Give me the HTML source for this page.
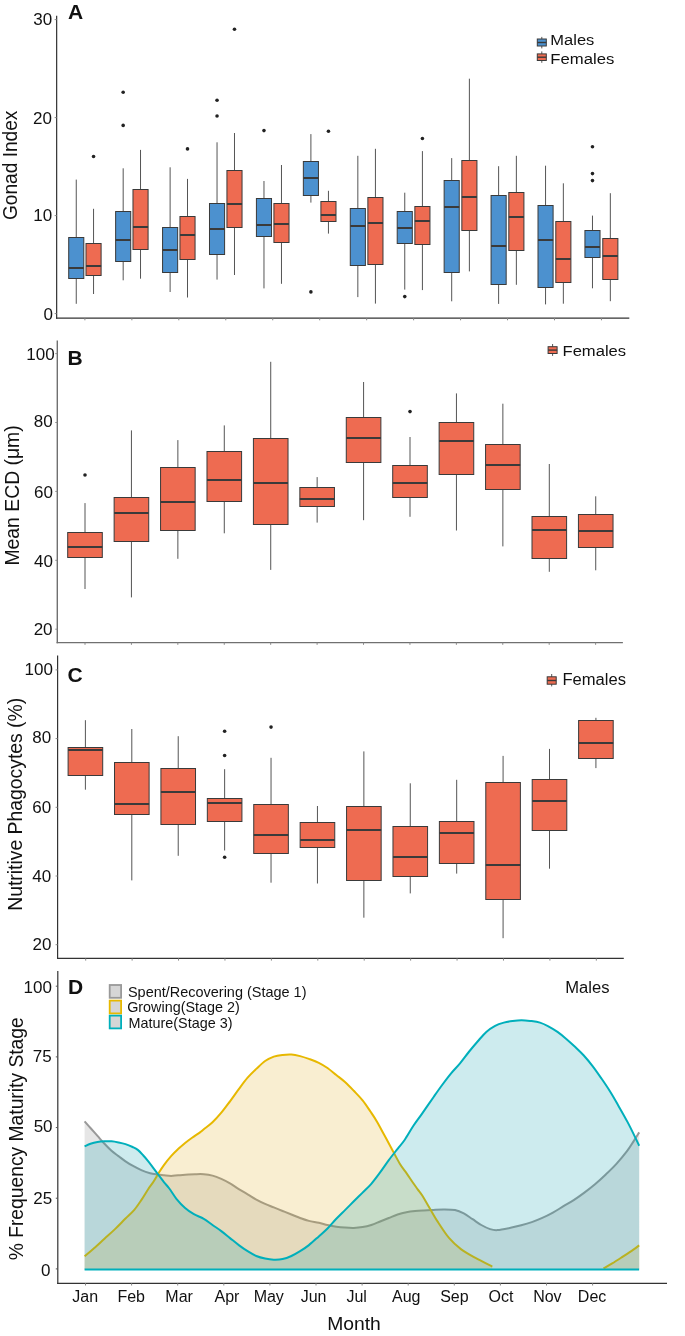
<!DOCTYPE html>
<html><head><meta charset="utf-8"><title>Figure</title>
<style>html,body{margin:0;padding:0;background:#fff;}svg{display:block;will-change:transform;}
text{font-family:"Liberation Sans",sans-serif;}</style></head>
<body><svg width="685" height="1336" viewBox="0 0 685 1336" font-family="Liberation Sans, sans-serif">
<rect width="685" height="1336" fill="#fff"/>
<line x1="56.65" y1="15.8" x2="56.65" y2="318.7" stroke="#333" stroke-width="1.2"/>
<line x1="54.65" y1="19.6" x2="56.65" y2="19.6" stroke="#888" stroke-width="1"/>
<line x1="54.65" y1="117.6" x2="56.65" y2="117.6" stroke="#888" stroke-width="1"/>
<line x1="54.65" y1="215.6" x2="56.65" y2="215.6" stroke="#888" stroke-width="1"/>
<line x1="54.65" y1="313.6" x2="56.65" y2="313.6" stroke="#888" stroke-width="1"/>
<text x="33.25" y="25.25" font-size="17" fill="#111">30</text>
<text x="32.95" y="123.65" font-size="17" fill="#111">20</text>
<text x="33.25" y="220.75" font-size="17" fill="#111">10</text>
<text x="43.41" y="319.8" font-size="17" fill="#111">0</text>
<line x1="56.05" y1="318.1" x2="629.3" y2="318.1" stroke="#333" stroke-width="1.2"/>
<line x1="84.9" y1="318.1" x2="84.9" y2="320.3" stroke="#888" stroke-width="1"/>
<line x1="131.86" y1="318.1" x2="131.86" y2="320.3" stroke="#888" stroke-width="1"/>
<line x1="178.82" y1="318.1" x2="178.82" y2="320.3" stroke="#888" stroke-width="1"/>
<line x1="225.78" y1="318.1" x2="225.78" y2="320.3" stroke="#888" stroke-width="1"/>
<line x1="272.74" y1="318.1" x2="272.74" y2="320.3" stroke="#888" stroke-width="1"/>
<line x1="319.7" y1="318.1" x2="319.7" y2="320.3" stroke="#888" stroke-width="1"/>
<line x1="366.66" y1="318.1" x2="366.66" y2="320.3" stroke="#888" stroke-width="1"/>
<line x1="413.62" y1="318.1" x2="413.62" y2="320.3" stroke="#888" stroke-width="1"/>
<line x1="460.58" y1="318.1" x2="460.58" y2="320.3" stroke="#888" stroke-width="1"/>
<line x1="507.54" y1="318.1" x2="507.54" y2="320.3" stroke="#888" stroke-width="1"/>
<line x1="554.5" y1="318.1" x2="554.5" y2="320.3" stroke="#888" stroke-width="1"/>
<line x1="601.46" y1="318.1" x2="601.46" y2="320.3" stroke="#888" stroke-width="1"/>
<line x1="76.25" y1="179.6" x2="76.25" y2="237" stroke="#555555" stroke-width="1"/>
<line x1="76.25" y1="279" x2="76.25" y2="303.8" stroke="#555555" stroke-width="1"/>
<rect x="68.7" y="237.5" width="15.1" height="41" fill="#4C91CF" stroke="#3a3a3a" stroke-width="1"/>
<line x1="68.7" y1="268" x2="83.8" y2="268" stroke="#3a3a3a" stroke-width="2"/>
<line x1="93.55" y1="208.8" x2="93.55" y2="243" stroke="#555555" stroke-width="1"/>
<line x1="93.55" y1="276" x2="93.55" y2="294" stroke="#555555" stroke-width="1"/>
<rect x="86" y="243.5" width="15.1" height="32" fill="#EE6B51" stroke="#3a3a3a" stroke-width="1"/>
<line x1="86" y1="266" x2="101.1" y2="266" stroke="#3a3a3a" stroke-width="2"/>
<circle cx="93.55" cy="156.5" r="1.8" fill="#222"/>
<line x1="123.18" y1="168.3" x2="123.18" y2="211" stroke="#555555" stroke-width="1"/>
<line x1="123.18" y1="262" x2="123.18" y2="280.3" stroke="#555555" stroke-width="1"/>
<rect x="115.63" y="211.5" width="15.1" height="50" fill="#4C91CF" stroke="#3a3a3a" stroke-width="1"/>
<line x1="115.63" y1="240" x2="130.73" y2="240" stroke="#3a3a3a" stroke-width="2"/>
<circle cx="123.18" cy="92.3" r="1.8" fill="#222"/>
<circle cx="123.18" cy="125.4" r="1.8" fill="#222"/>
<line x1="140.53" y1="149.9" x2="140.53" y2="189" stroke="#555555" stroke-width="1"/>
<line x1="140.53" y1="250" x2="140.53" y2="278.7" stroke="#555555" stroke-width="1"/>
<rect x="132.98" y="189.5" width="15.1" height="60" fill="#EE6B51" stroke="#3a3a3a" stroke-width="1"/>
<line x1="132.98" y1="227" x2="148.08" y2="227" stroke="#3a3a3a" stroke-width="2"/>
<line x1="170.11" y1="167.3" x2="170.11" y2="227" stroke="#555555" stroke-width="1"/>
<line x1="170.11" y1="273" x2="170.11" y2="292" stroke="#555555" stroke-width="1"/>
<rect x="162.56" y="227.5" width="15.1" height="45" fill="#4C91CF" stroke="#3a3a3a" stroke-width="1"/>
<line x1="162.56" y1="250" x2="177.66" y2="250" stroke="#3a3a3a" stroke-width="2"/>
<line x1="187.51" y1="178.9" x2="187.51" y2="216" stroke="#555555" stroke-width="1"/>
<line x1="187.51" y1="260" x2="187.51" y2="297.5" stroke="#555555" stroke-width="1"/>
<rect x="179.96" y="216.5" width="15.1" height="43" fill="#EE6B51" stroke="#3a3a3a" stroke-width="1"/>
<line x1="179.96" y1="235" x2="195.06" y2="235" stroke="#3a3a3a" stroke-width="2"/>
<circle cx="187.51" cy="148.9" r="1.8" fill="#222"/>
<line x1="217.04" y1="142.3" x2="217.04" y2="203" stroke="#555555" stroke-width="1"/>
<line x1="217.04" y1="255" x2="217.04" y2="279.6" stroke="#555555" stroke-width="1"/>
<rect x="209.49" y="203.5" width="15.1" height="51" fill="#4C91CF" stroke="#3a3a3a" stroke-width="1"/>
<line x1="209.49" y1="229" x2="224.59" y2="229" stroke="#3a3a3a" stroke-width="2"/>
<circle cx="217.04" cy="100.3" r="1.8" fill="#222"/>
<circle cx="217.04" cy="116" r="1.8" fill="#222"/>
<line x1="234.49" y1="133" x2="234.49" y2="170" stroke="#555555" stroke-width="1"/>
<line x1="234.49" y1="228" x2="234.49" y2="275" stroke="#555555" stroke-width="1"/>
<rect x="226.94" y="170.5" width="15.1" height="57" fill="#EE6B51" stroke="#3a3a3a" stroke-width="1"/>
<line x1="226.94" y1="204" x2="242.04" y2="204" stroke="#3a3a3a" stroke-width="2"/>
<circle cx="234.49" cy="29.3" r="1.8" fill="#222"/>
<line x1="263.97" y1="181" x2="263.97" y2="198" stroke="#555555" stroke-width="1"/>
<line x1="263.97" y1="237" x2="263.97" y2="288.4" stroke="#555555" stroke-width="1"/>
<rect x="256.42" y="198.5" width="15.1" height="38" fill="#4C91CF" stroke="#3a3a3a" stroke-width="1"/>
<line x1="256.42" y1="225" x2="271.52" y2="225" stroke="#3a3a3a" stroke-width="2"/>
<circle cx="263.97" cy="130.6" r="1.8" fill="#222"/>
<line x1="281.47" y1="165" x2="281.47" y2="203" stroke="#555555" stroke-width="1"/>
<line x1="281.47" y1="243" x2="281.47" y2="283.8" stroke="#555555" stroke-width="1"/>
<rect x="273.92" y="203.5" width="15.1" height="39" fill="#EE6B51" stroke="#3a3a3a" stroke-width="1"/>
<line x1="273.92" y1="224" x2="289.02" y2="224" stroke="#3a3a3a" stroke-width="2"/>
<line x1="310.9" y1="134.1" x2="310.9" y2="161" stroke="#555555" stroke-width="1"/>
<line x1="310.9" y1="196" x2="310.9" y2="202.6" stroke="#555555" stroke-width="1"/>
<rect x="303.35" y="161.5" width="15.1" height="34" fill="#4C91CF" stroke="#3a3a3a" stroke-width="1"/>
<line x1="303.35" y1="178" x2="318.45" y2="178" stroke="#3a3a3a" stroke-width="2"/>
<circle cx="310.9" cy="291.9" r="1.8" fill="#222"/>
<line x1="328.45" y1="190.8" x2="328.45" y2="201" stroke="#555555" stroke-width="1"/>
<line x1="328.45" y1="222" x2="328.45" y2="233.6" stroke="#555555" stroke-width="1"/>
<rect x="320.9" y="201.5" width="15.1" height="20" fill="#EE6B51" stroke="#3a3a3a" stroke-width="1"/>
<line x1="320.9" y1="215" x2="336" y2="215" stroke="#3a3a3a" stroke-width="2"/>
<circle cx="328.45" cy="131.2" r="1.8" fill="#222"/>
<line x1="357.83" y1="155.8" x2="357.83" y2="208" stroke="#555555" stroke-width="1"/>
<line x1="357.83" y1="266" x2="357.83" y2="297.1" stroke="#555555" stroke-width="1"/>
<rect x="350.28" y="208.5" width="15.1" height="57" fill="#4C91CF" stroke="#3a3a3a" stroke-width="1"/>
<line x1="350.28" y1="226" x2="365.38" y2="226" stroke="#3a3a3a" stroke-width="2"/>
<line x1="375.43" y1="148.8" x2="375.43" y2="197" stroke="#555555" stroke-width="1"/>
<line x1="375.43" y1="265" x2="375.43" y2="303.6" stroke="#555555" stroke-width="1"/>
<rect x="367.88" y="197.5" width="15.1" height="67" fill="#EE6B51" stroke="#3a3a3a" stroke-width="1"/>
<line x1="367.88" y1="223" x2="382.98" y2="223" stroke="#3a3a3a" stroke-width="2"/>
<line x1="404.76" y1="192.7" x2="404.76" y2="211" stroke="#555555" stroke-width="1"/>
<line x1="404.76" y1="244" x2="404.76" y2="289.6" stroke="#555555" stroke-width="1"/>
<rect x="397.21" y="211.5" width="15.1" height="32" fill="#4C91CF" stroke="#3a3a3a" stroke-width="1"/>
<line x1="397.21" y1="228" x2="412.31" y2="228" stroke="#3a3a3a" stroke-width="2"/>
<circle cx="404.76" cy="296.6" r="1.8" fill="#222"/>
<line x1="422.41" y1="151.1" x2="422.41" y2="206" stroke="#555555" stroke-width="1"/>
<line x1="422.41" y1="245" x2="422.41" y2="290.1" stroke="#555555" stroke-width="1"/>
<rect x="414.86" y="206.5" width="15.1" height="38" fill="#EE6B51" stroke="#3a3a3a" stroke-width="1"/>
<line x1="414.86" y1="221" x2="429.96" y2="221" stroke="#3a3a3a" stroke-width="2"/>
<circle cx="422.41" cy="138.5" r="1.8" fill="#222"/>
<line x1="451.69" y1="158.1" x2="451.69" y2="180" stroke="#555555" stroke-width="1"/>
<line x1="451.69" y1="273" x2="451.69" y2="301.3" stroke="#555555" stroke-width="1"/>
<rect x="444.14" y="180.5" width="15.1" height="92" fill="#4C91CF" stroke="#3a3a3a" stroke-width="1"/>
<line x1="444.14" y1="207" x2="459.24" y2="207" stroke="#3a3a3a" stroke-width="2"/>
<line x1="469.39" y1="78.7" x2="469.39" y2="160" stroke="#555555" stroke-width="1"/>
<line x1="469.39" y1="231" x2="469.39" y2="271.4" stroke="#555555" stroke-width="1"/>
<rect x="461.84" y="160.5" width="15.1" height="70" fill="#EE6B51" stroke="#3a3a3a" stroke-width="1"/>
<line x1="461.84" y1="197" x2="476.94" y2="197" stroke="#3a3a3a" stroke-width="2"/>
<line x1="498.62" y1="166.2" x2="498.62" y2="195" stroke="#555555" stroke-width="1"/>
<line x1="498.62" y1="285" x2="498.62" y2="303.9" stroke="#555555" stroke-width="1"/>
<rect x="491.07" y="195.5" width="15.1" height="89" fill="#4C91CF" stroke="#3a3a3a" stroke-width="1"/>
<line x1="491.07" y1="246" x2="506.17" y2="246" stroke="#3a3a3a" stroke-width="2"/>
<line x1="516.37" y1="155.8" x2="516.37" y2="192" stroke="#555555" stroke-width="1"/>
<line x1="516.37" y1="251" x2="516.37" y2="284.8" stroke="#555555" stroke-width="1"/>
<rect x="508.82" y="192.5" width="15.1" height="58" fill="#EE6B51" stroke="#3a3a3a" stroke-width="1"/>
<line x1="508.82" y1="217" x2="523.92" y2="217" stroke="#3a3a3a" stroke-width="2"/>
<line x1="545.55" y1="165.7" x2="545.55" y2="205" stroke="#555555" stroke-width="1"/>
<line x1="545.55" y1="288" x2="545.55" y2="304.4" stroke="#555555" stroke-width="1"/>
<rect x="538" y="205.5" width="15.1" height="82" fill="#4C91CF" stroke="#3a3a3a" stroke-width="1"/>
<line x1="538" y1="240" x2="553.1" y2="240" stroke="#3a3a3a" stroke-width="2"/>
<line x1="563.35" y1="183.3" x2="563.35" y2="221" stroke="#555555" stroke-width="1"/>
<line x1="563.35" y1="283" x2="563.35" y2="303.7" stroke="#555555" stroke-width="1"/>
<rect x="555.8" y="221.5" width="15.1" height="61" fill="#EE6B51" stroke="#3a3a3a" stroke-width="1"/>
<line x1="555.8" y1="259" x2="570.9" y2="259" stroke="#3a3a3a" stroke-width="2"/>
<line x1="592.48" y1="215.6" x2="592.48" y2="230" stroke="#555555" stroke-width="1"/>
<line x1="592.48" y1="258" x2="592.48" y2="288.3" stroke="#555555" stroke-width="1"/>
<rect x="584.93" y="230.5" width="15.1" height="27" fill="#4C91CF" stroke="#3a3a3a" stroke-width="1"/>
<line x1="584.93" y1="247" x2="600.03" y2="247" stroke="#3a3a3a" stroke-width="2"/>
<circle cx="592.48" cy="146.8" r="1.8" fill="#222"/>
<circle cx="592.48" cy="173.6" r="1.8" fill="#222"/>
<circle cx="592.48" cy="180.6" r="1.8" fill="#222"/>
<line x1="610.33" y1="193.2" x2="610.33" y2="238" stroke="#555555" stroke-width="1"/>
<line x1="610.33" y1="280" x2="610.33" y2="301.2" stroke="#555555" stroke-width="1"/>
<rect x="602.78" y="238.5" width="15.1" height="41" fill="#EE6B51" stroke="#3a3a3a" stroke-width="1"/>
<line x1="602.78" y1="256" x2="617.88" y2="256" stroke="#3a3a3a" stroke-width="2"/>
<text x="68" y="18.9" font-size="21" font-weight="bold" fill="#111">A</text>
<text transform="translate(16.8,220.06) scale(1.05,1) rotate(-90)" font-size="19.3" fill="#111" textLength="109.47" lengthAdjust="spacingAndGlyphs">Gonad Index</text>
<line x1="541.8" y1="36.9" x2="541.8" y2="48.4" stroke="#555555" stroke-width="1"/>
<rect x="537.3" y="39" width="9" height="7" fill="#4C91CF" stroke="#3a3a3a" stroke-width="1"/>
<line x1="537.3" y1="42.5" x2="546.3" y2="42.5" stroke="#3a3a3a" stroke-width="1.4"/>
<line x1="541.8" y1="51.4" x2="541.8" y2="62.8" stroke="#555555" stroke-width="1"/>
<rect x="537.3" y="53.9" width="9" height="6.6" fill="#EE6B51" stroke="#3a3a3a" stroke-width="1"/>
<line x1="537.3" y1="57.2" x2="546.3" y2="57.2" stroke="#3a3a3a" stroke-width="1.4"/>
<text x="550.35" y="45.4" font-size="15.4" fill="#111" textLength="43.95" lengthAdjust="spacingAndGlyphs">Males</text>
<text x="550.33" y="64.3" font-size="15.4" fill="#111" textLength="63.97" lengthAdjust="spacingAndGlyphs">Females</text>
<line x1="57.3" y1="340.5" x2="57.3" y2="643.3" stroke="#707070" stroke-width="1.4"/>
<line x1="55.3" y1="353.6" x2="57.3" y2="353.6" stroke="#888" stroke-width="1"/>
<line x1="55.3" y1="422.5" x2="57.3" y2="422.5" stroke="#888" stroke-width="1"/>
<line x1="55.3" y1="491.4" x2="57.3" y2="491.4" stroke="#888" stroke-width="1"/>
<line x1="55.3" y1="560.3" x2="57.3" y2="560.3" stroke="#888" stroke-width="1"/>
<line x1="55.3" y1="629.2" x2="57.3" y2="629.2" stroke="#888" stroke-width="1"/>
<text x="26.3" y="359.55" font-size="17" fill="#111">100</text>
<text x="33.85" y="426.85" font-size="17" fill="#111">80</text>
<text x="34.05" y="497.75" font-size="17" fill="#111">60</text>
<text x="34.05" y="566.75" font-size="17" fill="#111">40</text>
<text x="33.65" y="634.65" font-size="17" fill="#111">20</text>
<line x1="56.6" y1="642.6" x2="622.9" y2="642.6" stroke="#707070" stroke-width="1.4"/>
<line x1="85" y1="642.6" x2="85" y2="644.8" stroke="#888" stroke-width="1"/>
<line x1="131.42" y1="642.6" x2="131.42" y2="644.8" stroke="#888" stroke-width="1"/>
<line x1="177.84" y1="642.6" x2="177.84" y2="644.8" stroke="#888" stroke-width="1"/>
<line x1="224.26" y1="642.6" x2="224.26" y2="644.8" stroke="#888" stroke-width="1"/>
<line x1="270.68" y1="642.6" x2="270.68" y2="644.8" stroke="#888" stroke-width="1"/>
<line x1="317.1" y1="642.6" x2="317.1" y2="644.8" stroke="#888" stroke-width="1"/>
<line x1="363.52" y1="642.6" x2="363.52" y2="644.8" stroke="#888" stroke-width="1"/>
<line x1="409.94" y1="642.6" x2="409.94" y2="644.8" stroke="#888" stroke-width="1"/>
<line x1="456.36" y1="642.6" x2="456.36" y2="644.8" stroke="#888" stroke-width="1"/>
<line x1="502.78" y1="642.6" x2="502.78" y2="644.8" stroke="#888" stroke-width="1"/>
<line x1="549.2" y1="642.6" x2="549.2" y2="644.8" stroke="#888" stroke-width="1"/>
<line x1="595.62" y1="642.6" x2="595.62" y2="644.8" stroke="#888" stroke-width="1"/>
<line x1="85" y1="503.1" x2="85" y2="532" stroke="#555555" stroke-width="1"/>
<line x1="85" y1="558" x2="85" y2="589" stroke="#555555" stroke-width="1"/>
<rect x="67.7" y="532.5" width="34.6" height="25" fill="#EE6B51" stroke="#3a3a3a" stroke-width="1"/>
<line x1="67.7" y1="547" x2="102.3" y2="547" stroke="#3a3a3a" stroke-width="2"/>
<circle cx="85" cy="475" r="1.8" fill="#222"/>
<line x1="131.43" y1="430.4" x2="131.43" y2="497" stroke="#555555" stroke-width="1"/>
<line x1="131.43" y1="542" x2="131.43" y2="597.4" stroke="#555555" stroke-width="1"/>
<rect x="114.13" y="497.5" width="34.6" height="44" fill="#EE6B51" stroke="#3a3a3a" stroke-width="1"/>
<line x1="114.13" y1="513" x2="148.73" y2="513" stroke="#3a3a3a" stroke-width="2"/>
<line x1="177.86" y1="440.1" x2="177.86" y2="467" stroke="#555555" stroke-width="1"/>
<line x1="177.86" y1="531" x2="177.86" y2="558.8" stroke="#555555" stroke-width="1"/>
<rect x="160.56" y="467.5" width="34.6" height="63" fill="#EE6B51" stroke="#3a3a3a" stroke-width="1"/>
<line x1="160.56" y1="502" x2="195.16" y2="502" stroke="#3a3a3a" stroke-width="2"/>
<line x1="224.29" y1="425.4" x2="224.29" y2="451" stroke="#555555" stroke-width="1"/>
<line x1="224.29" y1="502" x2="224.29" y2="533.3" stroke="#555555" stroke-width="1"/>
<rect x="206.99" y="451.5" width="34.6" height="50" fill="#EE6B51" stroke="#3a3a3a" stroke-width="1"/>
<line x1="206.99" y1="480" x2="241.59" y2="480" stroke="#3a3a3a" stroke-width="2"/>
<line x1="270.72" y1="361.8" x2="270.72" y2="438" stroke="#555555" stroke-width="1"/>
<line x1="270.72" y1="525" x2="270.72" y2="569.9" stroke="#555555" stroke-width="1"/>
<rect x="253.42" y="438.5" width="34.6" height="86" fill="#EE6B51" stroke="#3a3a3a" stroke-width="1"/>
<line x1="253.42" y1="483" x2="288.02" y2="483" stroke="#3a3a3a" stroke-width="2"/>
<line x1="317.15" y1="477.1" x2="317.15" y2="487" stroke="#555555" stroke-width="1"/>
<line x1="317.15" y1="507" x2="317.15" y2="522.6" stroke="#555555" stroke-width="1"/>
<rect x="299.85" y="487.5" width="34.6" height="19" fill="#EE6B51" stroke="#3a3a3a" stroke-width="1"/>
<line x1="299.85" y1="499" x2="334.45" y2="499" stroke="#3a3a3a" stroke-width="2"/>
<line x1="363.58" y1="382" x2="363.58" y2="417" stroke="#555555" stroke-width="1"/>
<line x1="363.58" y1="463" x2="363.58" y2="520.2" stroke="#555555" stroke-width="1"/>
<rect x="346.28" y="417.5" width="34.6" height="45" fill="#EE6B51" stroke="#3a3a3a" stroke-width="1"/>
<line x1="346.28" y1="438" x2="380.88" y2="438" stroke="#3a3a3a" stroke-width="2"/>
<line x1="410.01" y1="437" x2="410.01" y2="465" stroke="#555555" stroke-width="1"/>
<line x1="410.01" y1="498" x2="410.01" y2="516.8" stroke="#555555" stroke-width="1"/>
<rect x="392.71" y="465.5" width="34.6" height="32" fill="#EE6B51" stroke="#3a3a3a" stroke-width="1"/>
<line x1="392.71" y1="483" x2="427.31" y2="483" stroke="#3a3a3a" stroke-width="2"/>
<circle cx="410.01" cy="411.6" r="1.8" fill="#222"/>
<line x1="456.44" y1="393.4" x2="456.44" y2="422" stroke="#555555" stroke-width="1"/>
<line x1="456.44" y1="475" x2="456.44" y2="530.5" stroke="#555555" stroke-width="1"/>
<rect x="439.14" y="422.5" width="34.6" height="52" fill="#EE6B51" stroke="#3a3a3a" stroke-width="1"/>
<line x1="439.14" y1="441" x2="473.74" y2="441" stroke="#3a3a3a" stroke-width="2"/>
<line x1="502.87" y1="403.7" x2="502.87" y2="444" stroke="#555555" stroke-width="1"/>
<line x1="502.87" y1="490" x2="502.87" y2="546.4" stroke="#555555" stroke-width="1"/>
<rect x="485.57" y="444.5" width="34.6" height="45" fill="#EE6B51" stroke="#3a3a3a" stroke-width="1"/>
<line x1="485.57" y1="465" x2="520.17" y2="465" stroke="#3a3a3a" stroke-width="2"/>
<line x1="549.3" y1="464" x2="549.3" y2="516" stroke="#555555" stroke-width="1"/>
<line x1="549.3" y1="559" x2="549.3" y2="571.8" stroke="#555555" stroke-width="1"/>
<rect x="532" y="516.5" width="34.6" height="42" fill="#EE6B51" stroke="#3a3a3a" stroke-width="1"/>
<line x1="532" y1="530" x2="566.6" y2="530" stroke="#3a3a3a" stroke-width="2"/>
<line x1="595.73" y1="496.3" x2="595.73" y2="514" stroke="#555555" stroke-width="1"/>
<line x1="595.73" y1="548" x2="595.73" y2="570.3" stroke="#555555" stroke-width="1"/>
<rect x="578.43" y="514.5" width="34.6" height="33" fill="#EE6B51" stroke="#3a3a3a" stroke-width="1"/>
<line x1="578.43" y1="531" x2="613.03" y2="531" stroke="#3a3a3a" stroke-width="2"/>
<text x="67.6" y="365" font-size="21" font-weight="bold" fill="#111">B</text>
<text transform="translate(18.7,565.59) scale(1.05,1) rotate(-90)" font-size="19.3" fill="#111" textLength="140.29" lengthAdjust="spacingAndGlyphs">Mean ECD (μm)</text>
<line x1="552.6" y1="344" x2="552.6" y2="355.9" stroke="#555555" stroke-width="1"/>
<rect x="548.1" y="346.7" width="9" height="6.8" fill="#EE6B51" stroke="#3a3a3a" stroke-width="1"/>
<line x1="548.1" y1="350.1" x2="557.1" y2="350.1" stroke="#3a3a3a" stroke-width="1.4"/>
<text x="562.54" y="355.6" font-size="15.4" fill="#111" textLength="63.56" lengthAdjust="spacingAndGlyphs">Females</text>
<line x1="57.6" y1="655.6" x2="57.6" y2="959" stroke="#333" stroke-width="1.2"/>
<line x1="55.6" y1="669.9" x2="57.6" y2="669.9" stroke="#888" stroke-width="1"/>
<line x1="55.6" y1="738.6" x2="57.6" y2="738.6" stroke="#888" stroke-width="1"/>
<line x1="55.6" y1="807.3" x2="57.6" y2="807.3" stroke="#888" stroke-width="1"/>
<line x1="55.6" y1="876" x2="57.6" y2="876" stroke="#888" stroke-width="1"/>
<line x1="55.6" y1="944.7" x2="57.6" y2="944.7" stroke="#888" stroke-width="1"/>
<text x="24.6" y="675.25" font-size="17" fill="#111">100</text>
<text x="32.35" y="742.65" font-size="17" fill="#111">80</text>
<text x="32.35" y="813.15" font-size="17" fill="#111">60</text>
<text x="32.35" y="881.75" font-size="17" fill="#111">40</text>
<text x="32.45" y="949.65" font-size="17" fill="#111">20</text>
<line x1="57" y1="958.4" x2="623.8" y2="958.4" stroke="#333" stroke-width="1.2"/>
<line x1="85.7" y1="958.4" x2="85.7" y2="960.6" stroke="#888" stroke-width="1"/>
<line x1="132.12" y1="958.4" x2="132.12" y2="960.6" stroke="#888" stroke-width="1"/>
<line x1="178.54" y1="958.4" x2="178.54" y2="960.6" stroke="#888" stroke-width="1"/>
<line x1="224.96" y1="958.4" x2="224.96" y2="960.6" stroke="#888" stroke-width="1"/>
<line x1="271.38" y1="958.4" x2="271.38" y2="960.6" stroke="#888" stroke-width="1"/>
<line x1="317.8" y1="958.4" x2="317.8" y2="960.6" stroke="#888" stroke-width="1"/>
<line x1="364.22" y1="958.4" x2="364.22" y2="960.6" stroke="#888" stroke-width="1"/>
<line x1="410.64" y1="958.4" x2="410.64" y2="960.6" stroke="#888" stroke-width="1"/>
<line x1="457.06" y1="958.4" x2="457.06" y2="960.6" stroke="#888" stroke-width="1"/>
<line x1="503.48" y1="958.4" x2="503.48" y2="960.6" stroke="#888" stroke-width="1"/>
<line x1="549.9" y1="958.4" x2="549.9" y2="960.6" stroke="#888" stroke-width="1"/>
<line x1="596.32" y1="958.4" x2="596.32" y2="960.6" stroke="#888" stroke-width="1"/>
<line x1="85.4" y1="720.2" x2="85.4" y2="747" stroke="#555555" stroke-width="1"/>
<line x1="85.4" y1="776" x2="85.4" y2="789.7" stroke="#555555" stroke-width="1"/>
<rect x="68.1" y="747.5" width="34.6" height="28" fill="#EE6B51" stroke="#3a3a3a" stroke-width="1"/>
<line x1="68.1" y1="750" x2="102.7" y2="750" stroke="#3a3a3a" stroke-width="2"/>
<line x1="131.81" y1="729" x2="131.81" y2="762" stroke="#555555" stroke-width="1"/>
<line x1="131.81" y1="815" x2="131.81" y2="880.4" stroke="#555555" stroke-width="1"/>
<rect x="114.51" y="762.5" width="34.6" height="52" fill="#EE6B51" stroke="#3a3a3a" stroke-width="1"/>
<line x1="114.51" y1="804" x2="149.11" y2="804" stroke="#3a3a3a" stroke-width="2"/>
<line x1="178.22" y1="736.2" x2="178.22" y2="768" stroke="#555555" stroke-width="1"/>
<line x1="178.22" y1="825" x2="178.22" y2="855.8" stroke="#555555" stroke-width="1"/>
<rect x="160.92" y="768.5" width="34.6" height="56" fill="#EE6B51" stroke="#3a3a3a" stroke-width="1"/>
<line x1="160.92" y1="792" x2="195.52" y2="792" stroke="#3a3a3a" stroke-width="2"/>
<line x1="224.63" y1="769.2" x2="224.63" y2="798" stroke="#555555" stroke-width="1"/>
<line x1="224.63" y1="822" x2="224.63" y2="850.5" stroke="#555555" stroke-width="1"/>
<rect x="207.33" y="798.5" width="34.6" height="23" fill="#EE6B51" stroke="#3a3a3a" stroke-width="1"/>
<line x1="207.33" y1="803" x2="241.93" y2="803" stroke="#3a3a3a" stroke-width="2"/>
<circle cx="224.63" cy="731.2" r="1.8" fill="#222"/>
<circle cx="224.63" cy="755.5" r="1.8" fill="#222"/>
<circle cx="224.63" cy="857.3" r="1.8" fill="#222"/>
<line x1="271.04" y1="757.8" x2="271.04" y2="804" stroke="#555555" stroke-width="1"/>
<line x1="271.04" y1="854" x2="271.04" y2="882.7" stroke="#555555" stroke-width="1"/>
<rect x="253.74" y="804.5" width="34.6" height="49" fill="#EE6B51" stroke="#3a3a3a" stroke-width="1"/>
<line x1="253.74" y1="835" x2="288.34" y2="835" stroke="#3a3a3a" stroke-width="2"/>
<circle cx="271.04" cy="727.1" r="1.8" fill="#222"/>
<line x1="317.45" y1="806" x2="317.45" y2="822" stroke="#555555" stroke-width="1"/>
<line x1="317.45" y1="848" x2="317.45" y2="883.5" stroke="#555555" stroke-width="1"/>
<rect x="300.15" y="822.5" width="34.6" height="25" fill="#EE6B51" stroke="#3a3a3a" stroke-width="1"/>
<line x1="300.15" y1="840" x2="334.75" y2="840" stroke="#3a3a3a" stroke-width="2"/>
<line x1="363.86" y1="751.4" x2="363.86" y2="806" stroke="#555555" stroke-width="1"/>
<line x1="363.86" y1="881" x2="363.86" y2="917.7" stroke="#555555" stroke-width="1"/>
<rect x="346.56" y="806.5" width="34.6" height="74" fill="#EE6B51" stroke="#3a3a3a" stroke-width="1"/>
<line x1="346.56" y1="830" x2="381.16" y2="830" stroke="#3a3a3a" stroke-width="2"/>
<line x1="410.27" y1="783.3" x2="410.27" y2="826" stroke="#555555" stroke-width="1"/>
<line x1="410.27" y1="877" x2="410.27" y2="893.4" stroke="#555555" stroke-width="1"/>
<rect x="392.97" y="826.5" width="34.6" height="50" fill="#EE6B51" stroke="#3a3a3a" stroke-width="1"/>
<line x1="392.97" y1="857" x2="427.57" y2="857" stroke="#3a3a3a" stroke-width="2"/>
<line x1="456.68" y1="779.8" x2="456.68" y2="821" stroke="#555555" stroke-width="1"/>
<line x1="456.68" y1="864" x2="456.68" y2="873.6" stroke="#555555" stroke-width="1"/>
<rect x="439.38" y="821.5" width="34.6" height="42" fill="#EE6B51" stroke="#3a3a3a" stroke-width="1"/>
<line x1="439.38" y1="833" x2="473.98" y2="833" stroke="#3a3a3a" stroke-width="2"/>
<line x1="503.09" y1="755.9" x2="503.09" y2="782" stroke="#555555" stroke-width="1"/>
<line x1="503.09" y1="900" x2="503.09" y2="938.2" stroke="#555555" stroke-width="1"/>
<rect x="485.79" y="782.5" width="34.6" height="117" fill="#EE6B51" stroke="#3a3a3a" stroke-width="1"/>
<line x1="485.79" y1="865" x2="520.39" y2="865" stroke="#3a3a3a" stroke-width="2"/>
<line x1="549.5" y1="748.9" x2="549.5" y2="779" stroke="#555555" stroke-width="1"/>
<line x1="549.5" y1="831" x2="549.5" y2="868.7" stroke="#555555" stroke-width="1"/>
<rect x="532.2" y="779.5" width="34.6" height="51" fill="#EE6B51" stroke="#3a3a3a" stroke-width="1"/>
<line x1="532.2" y1="801" x2="566.8" y2="801" stroke="#3a3a3a" stroke-width="2"/>
<line x1="595.91" y1="717.8" x2="595.91" y2="720" stroke="#555555" stroke-width="1"/>
<line x1="595.91" y1="759" x2="595.91" y2="768.1" stroke="#555555" stroke-width="1"/>
<rect x="578.61" y="720.5" width="34.6" height="38" fill="#EE6B51" stroke="#3a3a3a" stroke-width="1"/>
<line x1="578.61" y1="743" x2="613.21" y2="743" stroke="#3a3a3a" stroke-width="2"/>
<text x="67.4" y="682" font-size="21" font-weight="bold" fill="#111">C</text>
<text transform="translate(22,910.79) scale(1.05,1) rotate(-90)" font-size="19.3" fill="#111" textLength="212.99" lengthAdjust="spacingAndGlyphs">Nutritive Phagocytes (%)</text>
<line x1="551.7" y1="674" x2="551.7" y2="686.4" stroke="#555555" stroke-width="1"/>
<rect x="547.2" y="676.8" width="9" height="7.4" fill="#EE6B51" stroke="#3a3a3a" stroke-width="1"/>
<line x1="547.2" y1="680.5" x2="556.2" y2="680.5" stroke="#3a3a3a" stroke-width="1.4"/>
<text x="562.44" y="685.3" font-size="15.6" fill="#111" textLength="63.56" lengthAdjust="spacingAndGlyphs">Females</text>
<path d="M84.6,1121.4 C85.58,1122.5 88.35,1125.58 90.5,1128 C92.65,1130.42 95.17,1133.27 97.5,1135.9 C99.83,1138.53 102.17,1141.32 104.5,1143.8 C106.83,1146.28 109.17,1148.75 111.5,1150.8 C113.83,1152.85 116.17,1154.35 118.5,1156.1 C120.83,1157.85 123.15,1159.7 125.5,1161.3 C127.85,1162.9 129.97,1164.23 132.6,1165.7 C135.23,1167.17 138.38,1168.85 141.3,1170.1 C144.22,1171.35 147.47,1172.47 150.1,1173.2 C152.73,1173.93 154.77,1174.15 157.1,1174.5 C159.43,1174.85 161.77,1175.07 164.1,1175.3 C166.43,1175.53 168.77,1175.9 171.1,1175.9 C173.43,1175.9 175.18,1175.53 178.1,1175.3 C181.02,1175.07 185.78,1174.68 188.6,1174.5 C191.42,1174.32 192.47,1174.25 195,1174.2 C197.53,1174.15 200.88,1173.97 203.8,1174.2 C206.72,1174.43 209.58,1174.82 212.5,1175.6 C215.42,1176.38 218.38,1177.6 221.3,1178.9 C224.22,1180.2 227.08,1181.7 230,1183.4 C232.92,1185.1 235.87,1187.28 238.8,1189.1 C241.73,1190.92 244.68,1192.55 247.6,1194.3 C250.52,1196.05 253.38,1198 256.3,1199.6 C259.22,1201.2 262.18,1202.6 265.1,1203.9 C268.02,1205.2 270.88,1206.22 273.8,1207.4 C276.72,1208.58 279.67,1209.82 282.6,1211 C285.53,1212.18 288.48,1213.33 291.4,1214.5 C294.32,1215.67 297.18,1216.93 300.1,1218 C303.02,1219.07 305.78,1220.12 308.9,1220.9 C312.02,1221.68 315.7,1222.02 318.8,1222.7 C321.9,1223.38 324.58,1224.33 327.5,1225 C330.42,1225.67 333.38,1226.27 336.3,1226.7 C339.22,1227.13 342.08,1227.4 345,1227.6 C347.92,1227.8 350.87,1227.98 353.8,1227.9 C356.73,1227.82 359.68,1227.58 362.6,1227.1 C365.52,1226.62 368.38,1225.93 371.3,1225 C374.22,1224.07 377.18,1222.67 380.1,1221.5 C383.02,1220.33 385.88,1219.17 388.8,1218 C391.72,1216.83 394.67,1215.47 397.6,1214.5 C400.53,1213.53 403.48,1212.78 406.4,1212.2 C409.32,1211.62 412.18,1211.3 415.1,1211 C418.02,1210.7 421.13,1210.55 423.9,1210.4 C426.67,1210.25 428.45,1210.27 431.7,1210.1 C434.95,1209.93 439.52,1209.42 443.4,1209.4 C447.28,1209.38 451.6,1209.33 455,1210 C458.4,1210.67 460.87,1211.87 463.8,1213.4 C466.73,1214.93 469.68,1217.27 472.6,1219.2 C475.52,1221.13 478.38,1223.35 481.3,1225 C484.22,1226.65 487.42,1228.25 490.1,1229.1 C492.78,1229.95 493.98,1230.32 497.4,1230.1 C500.82,1229.88 506.63,1228.6 510.6,1227.8 C514.57,1227 517.67,1226.25 521.2,1225.3 C524.73,1224.35 528.28,1223.33 531.8,1222.1 C535.32,1220.87 538.78,1219.48 542.3,1217.9 C545.82,1216.32 549.37,1214.55 552.9,1212.6 C556.43,1210.65 559.97,1208.32 563.5,1206.2 C567.03,1204.08 570.57,1202.2 574.1,1199.9 C577.63,1197.6 581.17,1195.05 584.7,1192.4 C588.23,1189.75 591.78,1186.98 595.3,1184 C598.82,1181.02 602.28,1177.85 605.8,1174.5 C609.32,1171.15 612.87,1167.78 616.4,1163.9 C619.93,1160.02 624.17,1154.92 627,1151.2 C629.83,1147.48 631.37,1144.73 633.4,1141.6 C635.43,1138.47 638.23,1133.93 639.2,1132.4 L639.2,1269.6 L84.6,1269.6 Z" fill="rgb(130,130,130)" fill-opacity="0.2" stroke="none"/>
<path d="M84.6,1121.4 C85.58,1122.5 88.35,1125.58 90.5,1128 C92.65,1130.42 95.17,1133.27 97.5,1135.9 C99.83,1138.53 102.17,1141.32 104.5,1143.8 C106.83,1146.28 109.17,1148.75 111.5,1150.8 C113.83,1152.85 116.17,1154.35 118.5,1156.1 C120.83,1157.85 123.15,1159.7 125.5,1161.3 C127.85,1162.9 129.97,1164.23 132.6,1165.7 C135.23,1167.17 138.38,1168.85 141.3,1170.1 C144.22,1171.35 147.47,1172.47 150.1,1173.2 C152.73,1173.93 154.77,1174.15 157.1,1174.5 C159.43,1174.85 161.77,1175.07 164.1,1175.3 C166.43,1175.53 168.77,1175.9 171.1,1175.9 C173.43,1175.9 175.18,1175.53 178.1,1175.3 C181.02,1175.07 185.78,1174.68 188.6,1174.5 C191.42,1174.32 192.47,1174.25 195,1174.2 C197.53,1174.15 200.88,1173.97 203.8,1174.2 C206.72,1174.43 209.58,1174.82 212.5,1175.6 C215.42,1176.38 218.38,1177.6 221.3,1178.9 C224.22,1180.2 227.08,1181.7 230,1183.4 C232.92,1185.1 235.87,1187.28 238.8,1189.1 C241.73,1190.92 244.68,1192.55 247.6,1194.3 C250.52,1196.05 253.38,1198 256.3,1199.6 C259.22,1201.2 262.18,1202.6 265.1,1203.9 C268.02,1205.2 270.88,1206.22 273.8,1207.4 C276.72,1208.58 279.67,1209.82 282.6,1211 C285.53,1212.18 288.48,1213.33 291.4,1214.5 C294.32,1215.67 297.18,1216.93 300.1,1218 C303.02,1219.07 305.78,1220.12 308.9,1220.9 C312.02,1221.68 315.7,1222.02 318.8,1222.7 C321.9,1223.38 324.58,1224.33 327.5,1225 C330.42,1225.67 333.38,1226.27 336.3,1226.7 C339.22,1227.13 342.08,1227.4 345,1227.6 C347.92,1227.8 350.87,1227.98 353.8,1227.9 C356.73,1227.82 359.68,1227.58 362.6,1227.1 C365.52,1226.62 368.38,1225.93 371.3,1225 C374.22,1224.07 377.18,1222.67 380.1,1221.5 C383.02,1220.33 385.88,1219.17 388.8,1218 C391.72,1216.83 394.67,1215.47 397.6,1214.5 C400.53,1213.53 403.48,1212.78 406.4,1212.2 C409.32,1211.62 412.18,1211.3 415.1,1211 C418.02,1210.7 421.13,1210.55 423.9,1210.4 C426.67,1210.25 428.45,1210.27 431.7,1210.1 C434.95,1209.93 439.52,1209.42 443.4,1209.4 C447.28,1209.38 451.6,1209.33 455,1210 C458.4,1210.67 460.87,1211.87 463.8,1213.4 C466.73,1214.93 469.68,1217.27 472.6,1219.2 C475.52,1221.13 478.38,1223.35 481.3,1225 C484.22,1226.65 487.42,1228.25 490.1,1229.1 C492.78,1229.95 493.98,1230.32 497.4,1230.1 C500.82,1229.88 506.63,1228.6 510.6,1227.8 C514.57,1227 517.67,1226.25 521.2,1225.3 C524.73,1224.35 528.28,1223.33 531.8,1222.1 C535.32,1220.87 538.78,1219.48 542.3,1217.9 C545.82,1216.32 549.37,1214.55 552.9,1212.6 C556.43,1210.65 559.97,1208.32 563.5,1206.2 C567.03,1204.08 570.57,1202.2 574.1,1199.9 C577.63,1197.6 581.17,1195.05 584.7,1192.4 C588.23,1189.75 591.78,1186.98 595.3,1184 C598.82,1181.02 602.28,1177.85 605.8,1174.5 C609.32,1171.15 612.87,1167.78 616.4,1163.9 C619.93,1160.02 624.17,1154.92 627,1151.2 C629.83,1147.48 631.37,1144.73 633.4,1141.6 C635.43,1138.47 638.23,1133.93 639.2,1132.4" fill="none" stroke="#999999" stroke-width="2.0"/>
<path d="M84.6,1256.2 C86.17,1254.88 90.68,1251.22 94,1248.3 C97.32,1245.38 101,1241.9 104.5,1238.7 C108,1235.5 111.5,1232.47 115,1229.1 C118.5,1225.73 122.28,1221.72 125.5,1218.5 C128.72,1215.28 131.67,1212.87 134.3,1209.8 C136.93,1206.73 138.97,1203.57 141.3,1200.1 C143.63,1196.63 146.25,1192.1 148.3,1189 C150.35,1185.9 151.85,1184.22 153.6,1181.5 C155.35,1178.78 157.05,1175.48 158.8,1172.7 C160.55,1169.92 162.05,1167.57 164.1,1164.8 C166.15,1162.03 168.77,1158.72 171.1,1156.1 C173.43,1153.48 175.77,1151.3 178.1,1149.1 C180.43,1146.9 182.77,1144.8 185.1,1142.9 C187.43,1141 189.62,1139.45 192.1,1137.7 C194.58,1135.95 198.05,1133.8 200,1132.4 C201.95,1131 201.72,1130.98 203.8,1129.3 C205.88,1127.62 209.58,1125.07 212.5,1122.3 C215.42,1119.53 218.38,1116.2 221.3,1112.7 C224.22,1109.2 227.08,1105.23 230,1101.3 C232.92,1097.37 235.87,1093.03 238.8,1089.1 C241.73,1085.17 244.68,1081.07 247.6,1077.7 C250.52,1074.33 253.38,1071.68 256.3,1068.9 C259.22,1066.12 262.18,1063.05 265.1,1061 C268.02,1058.95 270.88,1057.62 273.8,1056.6 C276.72,1055.58 279.67,1055.25 282.6,1054.9 C285.53,1054.55 288.48,1054.3 291.4,1054.5 C294.32,1054.7 297.18,1055.37 300.1,1056.1 C303.02,1056.83 305.78,1057.78 308.9,1058.9 C312.02,1060.02 315.7,1061.28 318.8,1062.8 C321.9,1064.32 324.58,1065.97 327.5,1068 C330.42,1070.03 333.38,1072.67 336.3,1075 C339.22,1077.33 342.08,1079.37 345,1082 C347.92,1084.63 350.87,1087.73 353.8,1090.8 C356.73,1093.87 359.8,1096.9 362.6,1100.4 C365.4,1103.9 368.2,1108.25 370.6,1111.8 C373,1115.35 374.77,1117.92 377,1121.7 C379.23,1125.48 381.67,1130.22 384,1134.5 C386.33,1138.78 388.37,1142.53 391,1147.4 C393.63,1152.27 397.17,1159.33 399.8,1163.7 C402.43,1168.07 404.6,1170.42 406.8,1173.6 C409,1176.78 411.18,1180.18 413,1182.8 C414.82,1185.42 416.13,1187.15 417.7,1189.3 C419.27,1191.45 420.52,1192.75 422.4,1195.7 C424.28,1198.65 426.48,1202.72 429,1207 C431.52,1211.28 434.13,1216.2 437.5,1221.4 C440.87,1226.6 445.3,1233.58 449.2,1238.2 C453.1,1242.82 456.52,1245.82 460.9,1249.1 C465.28,1252.38 470.27,1254.98 475.5,1257.9 C480.73,1260.82 489.5,1265.15 492.3,1266.6 L492.3,1269.6 L84.6,1269.6 Z" fill="rgb(225,170,25)" fill-opacity="0.2" stroke="none"/>
<path d="M603.5,1268.4 C604.95,1267.57 608.98,1265.37 612.2,1263.4 C615.42,1261.43 619.27,1258.9 622.8,1256.6 C626.33,1254.3 630.67,1251.47 633.4,1249.6 C636.13,1247.73 638.23,1246.1 639.2,1245.4 L639.2,1269.6 L603.5,1269.6 Z" fill="rgb(225,170,25)" fill-opacity="0.2" stroke="none"/>
<path d="M84.6,1256.2 C86.17,1254.88 90.68,1251.22 94,1248.3 C97.32,1245.38 101,1241.9 104.5,1238.7 C108,1235.5 111.5,1232.47 115,1229.1 C118.5,1225.73 122.28,1221.72 125.5,1218.5 C128.72,1215.28 131.67,1212.87 134.3,1209.8 C136.93,1206.73 138.97,1203.57 141.3,1200.1 C143.63,1196.63 146.25,1192.1 148.3,1189 C150.35,1185.9 151.85,1184.22 153.6,1181.5 C155.35,1178.78 157.05,1175.48 158.8,1172.7 C160.55,1169.92 162.05,1167.57 164.1,1164.8 C166.15,1162.03 168.77,1158.72 171.1,1156.1 C173.43,1153.48 175.77,1151.3 178.1,1149.1 C180.43,1146.9 182.77,1144.8 185.1,1142.9 C187.43,1141 189.62,1139.45 192.1,1137.7 C194.58,1135.95 198.05,1133.8 200,1132.4 C201.95,1131 201.72,1130.98 203.8,1129.3 C205.88,1127.62 209.58,1125.07 212.5,1122.3 C215.42,1119.53 218.38,1116.2 221.3,1112.7 C224.22,1109.2 227.08,1105.23 230,1101.3 C232.92,1097.37 235.87,1093.03 238.8,1089.1 C241.73,1085.17 244.68,1081.07 247.6,1077.7 C250.52,1074.33 253.38,1071.68 256.3,1068.9 C259.22,1066.12 262.18,1063.05 265.1,1061 C268.02,1058.95 270.88,1057.62 273.8,1056.6 C276.72,1055.58 279.67,1055.25 282.6,1054.9 C285.53,1054.55 288.48,1054.3 291.4,1054.5 C294.32,1054.7 297.18,1055.37 300.1,1056.1 C303.02,1056.83 305.78,1057.78 308.9,1058.9 C312.02,1060.02 315.7,1061.28 318.8,1062.8 C321.9,1064.32 324.58,1065.97 327.5,1068 C330.42,1070.03 333.38,1072.67 336.3,1075 C339.22,1077.33 342.08,1079.37 345,1082 C347.92,1084.63 350.87,1087.73 353.8,1090.8 C356.73,1093.87 359.8,1096.9 362.6,1100.4 C365.4,1103.9 368.2,1108.25 370.6,1111.8 C373,1115.35 374.77,1117.92 377,1121.7 C379.23,1125.48 381.67,1130.22 384,1134.5 C386.33,1138.78 388.37,1142.53 391,1147.4 C393.63,1152.27 397.17,1159.33 399.8,1163.7 C402.43,1168.07 404.6,1170.42 406.8,1173.6 C409,1176.78 411.18,1180.18 413,1182.8 C414.82,1185.42 416.13,1187.15 417.7,1189.3 C419.27,1191.45 420.52,1192.75 422.4,1195.7 C424.28,1198.65 426.48,1202.72 429,1207 C431.52,1211.28 434.13,1216.2 437.5,1221.4 C440.87,1226.6 445.3,1233.58 449.2,1238.2 C453.1,1242.82 456.52,1245.82 460.9,1249.1 C465.28,1252.38 470.27,1254.98 475.5,1257.9 C480.73,1260.82 489.5,1265.15 492.3,1266.6" fill="none" stroke="#E7B800" stroke-width="2.0"/>
<path d="M603.5,1268.4 C604.95,1267.57 608.98,1265.37 612.2,1263.4 C615.42,1261.43 619.27,1258.9 622.8,1256.6 C626.33,1254.3 630.67,1251.47 633.4,1249.6 C636.13,1247.73 638.23,1246.1 639.2,1245.4" fill="none" stroke="#E7B800" stroke-width="2.0"/>
<path d="M84.6,1146.4 C85.58,1145.97 88.35,1144.53 90.5,1143.8 C92.65,1143.07 95.17,1142.42 97.5,1142 C99.83,1141.58 102.17,1141.42 104.5,1141.3 C106.83,1141.18 109.17,1141.12 111.5,1141.3 C113.83,1141.48 116.17,1141.93 118.5,1142.4 C120.83,1142.87 123.15,1143.33 125.5,1144.1 C127.85,1144.87 130.55,1146.03 132.6,1147 C134.65,1147.97 136.05,1148.53 137.8,1149.9 C139.55,1151.27 141.35,1153.3 143.1,1155.2 C144.85,1157.1 146.55,1159.12 148.3,1161.3 C150.05,1163.48 151.85,1165.97 153.6,1168.3 C155.35,1170.63 157.05,1172.97 158.8,1175.3 C160.55,1177.63 162.35,1180.1 164.1,1182.3 C165.85,1184.5 167.25,1185.75 169.3,1188.5 C171.35,1191.25 173.77,1195.55 176.4,1198.8 C179.03,1202.05 182.18,1205.43 185.1,1208 C188.02,1210.57 190.78,1212.4 193.9,1214.2 C197.02,1216 200.7,1217 203.8,1218.8 C206.9,1220.6 209.58,1222.95 212.5,1225 C215.42,1227.05 218.38,1228.92 221.3,1231.1 C224.22,1233.28 227.08,1235.77 230,1238.1 C232.92,1240.43 235.87,1242.92 238.8,1245.1 C241.73,1247.28 244.68,1249.38 247.6,1251.2 C250.52,1253.02 253.38,1254.77 256.3,1256 C259.22,1257.23 262.18,1257.98 265.1,1258.6 C268.02,1259.22 270.88,1259.62 273.8,1259.7 C276.72,1259.78 279.67,1259.72 282.6,1259.1 C285.53,1258.48 288.48,1257.32 291.4,1256 C294.32,1254.68 297.18,1253.02 300.1,1251.2 C303.02,1249.38 305.78,1247.57 308.9,1245.1 C312.02,1242.63 315.7,1239.17 318.8,1236.4 C321.9,1233.63 324.58,1231.43 327.5,1228.5 C330.42,1225.57 333.38,1221.87 336.3,1218.8 C339.22,1215.73 342.08,1213.02 345,1210.1 C347.92,1207.18 350.87,1204.22 353.8,1201.3 C356.73,1198.38 359.68,1195.52 362.6,1192.6 C365.52,1189.68 368.38,1187.17 371.3,1183.8 C374.22,1180.43 377.18,1176.35 380.1,1172.4 C383.02,1168.45 385.88,1164.03 388.8,1160.1 C391.72,1156.17 394.97,1152.15 397.6,1148.8 C400.23,1145.45 401.97,1143.83 404.6,1140 C407.23,1136.17 410.48,1130.2 413.4,1125.8 C416.32,1121.4 418.7,1118.45 422.1,1113.6 C425.5,1108.75 430.4,1101.55 433.8,1096.7 C437.2,1091.85 439.58,1088.43 442.5,1084.5 C445.42,1080.57 448.38,1076.62 451.3,1073.1 C454.22,1069.58 457.08,1066.92 460,1063.4 C462.92,1059.88 465.87,1055.65 468.8,1052 C471.73,1048.35 474.68,1044.85 477.6,1041.5 C480.52,1038.15 483.38,1034.52 486.3,1031.9 C489.22,1029.28 492.18,1027.35 495.1,1025.8 C498.02,1024.25 500.88,1023.4 503.8,1022.6 C506.72,1021.8 509.67,1021.4 512.6,1021 C515.53,1020.6 518.48,1020.22 521.4,1020.2 C524.32,1020.18 527,1020.5 530.1,1020.9 C533.2,1021.3 536.88,1021.65 540,1022.6 C543.12,1023.55 545.88,1025.05 548.8,1026.6 C551.72,1028.15 554.58,1029.85 557.5,1031.9 C560.42,1033.95 563.38,1036.42 566.3,1038.9 C569.22,1041.38 572.08,1044.03 575,1046.8 C577.92,1049.57 580.87,1052.28 583.8,1055.5 C586.73,1058.72 589.68,1062.3 592.6,1066.1 C595.52,1069.9 598.38,1074.07 601.3,1078.3 C604.22,1082.53 607.18,1086.82 610.1,1091.5 C613.02,1096.18 615.88,1101.3 618.8,1106.4 C621.72,1111.5 624.97,1117.15 627.6,1122.1 C630.23,1127.05 632.67,1132.15 634.6,1136.1 C636.53,1140.05 638.43,1144.18 639.2,1145.8 L639.2,1269.6 L84.6,1269.6 Z" fill="rgb(5,155,170)" fill-opacity="0.2" stroke="none"/>
<path d="M84.6,1146.4 C85.58,1145.97 88.35,1144.53 90.5,1143.8 C92.65,1143.07 95.17,1142.42 97.5,1142 C99.83,1141.58 102.17,1141.42 104.5,1141.3 C106.83,1141.18 109.17,1141.12 111.5,1141.3 C113.83,1141.48 116.17,1141.93 118.5,1142.4 C120.83,1142.87 123.15,1143.33 125.5,1144.1 C127.85,1144.87 130.55,1146.03 132.6,1147 C134.65,1147.97 136.05,1148.53 137.8,1149.9 C139.55,1151.27 141.35,1153.3 143.1,1155.2 C144.85,1157.1 146.55,1159.12 148.3,1161.3 C150.05,1163.48 151.85,1165.97 153.6,1168.3 C155.35,1170.63 157.05,1172.97 158.8,1175.3 C160.55,1177.63 162.35,1180.1 164.1,1182.3 C165.85,1184.5 167.25,1185.75 169.3,1188.5 C171.35,1191.25 173.77,1195.55 176.4,1198.8 C179.03,1202.05 182.18,1205.43 185.1,1208 C188.02,1210.57 190.78,1212.4 193.9,1214.2 C197.02,1216 200.7,1217 203.8,1218.8 C206.9,1220.6 209.58,1222.95 212.5,1225 C215.42,1227.05 218.38,1228.92 221.3,1231.1 C224.22,1233.28 227.08,1235.77 230,1238.1 C232.92,1240.43 235.87,1242.92 238.8,1245.1 C241.73,1247.28 244.68,1249.38 247.6,1251.2 C250.52,1253.02 253.38,1254.77 256.3,1256 C259.22,1257.23 262.18,1257.98 265.1,1258.6 C268.02,1259.22 270.88,1259.62 273.8,1259.7 C276.72,1259.78 279.67,1259.72 282.6,1259.1 C285.53,1258.48 288.48,1257.32 291.4,1256 C294.32,1254.68 297.18,1253.02 300.1,1251.2 C303.02,1249.38 305.78,1247.57 308.9,1245.1 C312.02,1242.63 315.7,1239.17 318.8,1236.4 C321.9,1233.63 324.58,1231.43 327.5,1228.5 C330.42,1225.57 333.38,1221.87 336.3,1218.8 C339.22,1215.73 342.08,1213.02 345,1210.1 C347.92,1207.18 350.87,1204.22 353.8,1201.3 C356.73,1198.38 359.68,1195.52 362.6,1192.6 C365.52,1189.68 368.38,1187.17 371.3,1183.8 C374.22,1180.43 377.18,1176.35 380.1,1172.4 C383.02,1168.45 385.88,1164.03 388.8,1160.1 C391.72,1156.17 394.97,1152.15 397.6,1148.8 C400.23,1145.45 401.97,1143.83 404.6,1140 C407.23,1136.17 410.48,1130.2 413.4,1125.8 C416.32,1121.4 418.7,1118.45 422.1,1113.6 C425.5,1108.75 430.4,1101.55 433.8,1096.7 C437.2,1091.85 439.58,1088.43 442.5,1084.5 C445.42,1080.57 448.38,1076.62 451.3,1073.1 C454.22,1069.58 457.08,1066.92 460,1063.4 C462.92,1059.88 465.87,1055.65 468.8,1052 C471.73,1048.35 474.68,1044.85 477.6,1041.5 C480.52,1038.15 483.38,1034.52 486.3,1031.9 C489.22,1029.28 492.18,1027.35 495.1,1025.8 C498.02,1024.25 500.88,1023.4 503.8,1022.6 C506.72,1021.8 509.67,1021.4 512.6,1021 C515.53,1020.6 518.48,1020.22 521.4,1020.2 C524.32,1020.18 527,1020.5 530.1,1020.9 C533.2,1021.3 536.88,1021.65 540,1022.6 C543.12,1023.55 545.88,1025.05 548.8,1026.6 C551.72,1028.15 554.58,1029.85 557.5,1031.9 C560.42,1033.95 563.38,1036.42 566.3,1038.9 C569.22,1041.38 572.08,1044.03 575,1046.8 C577.92,1049.57 580.87,1052.28 583.8,1055.5 C586.73,1058.72 589.68,1062.3 592.6,1066.1 C595.52,1069.9 598.38,1074.07 601.3,1078.3 C604.22,1082.53 607.18,1086.82 610.1,1091.5 C613.02,1096.18 615.88,1101.3 618.8,1106.4 C621.72,1111.5 624.97,1117.15 627.6,1122.1 C630.23,1127.05 632.67,1132.15 634.6,1136.1 C636.53,1140.05 638.43,1144.18 639.2,1145.8" fill="none" stroke="#00AFBB" stroke-width="2.0"/>
<line x1="84.6" y1="1269.6" x2="639.1" y2="1269.6" stroke="#00AFBB" stroke-width="2.0"/>
<line x1="57.8" y1="971" x2="57.8" y2="1283.95" stroke="#333" stroke-width="1.2"/>
<line x1="55.8" y1="986.2" x2="57.8" y2="986.2" stroke="#555" stroke-width="1"/>
<line x1="55.8" y1="1056.88" x2="57.8" y2="1056.88" stroke="#555" stroke-width="1"/>
<line x1="55.8" y1="1127.55" x2="57.8" y2="1127.55" stroke="#555" stroke-width="1"/>
<line x1="55.8" y1="1198.23" x2="57.8" y2="1198.23" stroke="#555" stroke-width="1"/>
<line x1="55.8" y1="1268.9" x2="57.8" y2="1268.9" stroke="#555" stroke-width="1"/>
<text x="23.6" y="993.15" font-size="17" fill="#111">100</text>
<text x="32.8" y="1061.85" font-size="17" fill="#111">75</text>
<text x="33.65" y="1132.35" font-size="17" fill="#111">50</text>
<text x="33.3" y="1203.95" font-size="17" fill="#111">25</text>
<text x="41.11" y="1275.55" font-size="17" fill="#111">0</text>
<line x1="57.15" y1="1283.3" x2="667" y2="1283.3" stroke="#333" stroke-width="1.2"/>
<line x1="85.5" y1="1283.3" x2="85.5" y2="1285.5" stroke="#888" stroke-width="1"/>
<line x1="131.6" y1="1283.3" x2="131.6" y2="1285.5" stroke="#888" stroke-width="1"/>
<line x1="177.7" y1="1283.3" x2="177.7" y2="1285.5" stroke="#888" stroke-width="1"/>
<line x1="223.8" y1="1283.3" x2="223.8" y2="1285.5" stroke="#888" stroke-width="1"/>
<line x1="269.9" y1="1283.3" x2="269.9" y2="1285.5" stroke="#888" stroke-width="1"/>
<line x1="316" y1="1283.3" x2="316" y2="1285.5" stroke="#888" stroke-width="1"/>
<line x1="362.1" y1="1283.3" x2="362.1" y2="1285.5" stroke="#888" stroke-width="1"/>
<line x1="408.2" y1="1283.3" x2="408.2" y2="1285.5" stroke="#888" stroke-width="1"/>
<line x1="454.3" y1="1283.3" x2="454.3" y2="1285.5" stroke="#888" stroke-width="1"/>
<line x1="500.4" y1="1283.3" x2="500.4" y2="1285.5" stroke="#888" stroke-width="1"/>
<line x1="546.5" y1="1283.3" x2="546.5" y2="1285.5" stroke="#888" stroke-width="1"/>
<line x1="592.6" y1="1283.3" x2="592.6" y2="1285.5" stroke="#888" stroke-width="1"/>
<text x="72.35" y="1301.8" font-size="16" fill="#111">Jan</text>
<text x="117.39" y="1301.8" font-size="16" fill="#111">Feb</text>
<text x="165.3" y="1301.8" font-size="16" fill="#111">Mar</text>
<text x="214.47" y="1301.8" font-size="16" fill="#111">Apr</text>
<text x="253.65" y="1301.8" font-size="16" fill="#111">May</text>
<text x="300.7" y="1301.8" font-size="16" fill="#111">Jun</text>
<text x="346.48" y="1301.8" font-size="16" fill="#111">Jul</text>
<text x="391.97" y="1301.8" font-size="16" fill="#111">Aug</text>
<text x="440.14" y="1301.8" font-size="16" fill="#111">Sep</text>
<text x="488.53" y="1301.8" font-size="16" fill="#111">Oct</text>
<text x="533.14" y="1301.8" font-size="16" fill="#111">Nov</text>
<text x="577.83" y="1301.8" font-size="16" fill="#111">Dec</text>
<text x="327.22" y="1329.6" font-size="18.6" fill="#111" textLength="53.64" lengthAdjust="spacingAndGlyphs">Month</text>
<text x="67.9" y="994.3" font-size="21" font-weight="bold" fill="#111">D</text>
<text transform="translate(23.4,1260.29) scale(1.05,1) rotate(-90)" font-size="19.3" fill="#111" textLength="243.04" lengthAdjust="spacingAndGlyphs">% Frequency Maturity Stage</text>
<text x="565.24" y="993.4" font-size="15.8" fill="#111" textLength="44.26" lengthAdjust="spacingAndGlyphs">Males</text>
<rect x="109.7" y="985" width="11.4" height="12.8" fill="#D6D6D6" stroke="#999999" stroke-width="1.8"/>
<rect x="109.7" y="1000.6" width="11.4" height="12.8" fill="#D6D6D6" stroke="#E7B800" stroke-width="1.8"/>
<rect x="109.7" y="1015.6" width="11.4" height="12.8" fill="#D6D6D6" stroke="#00AFBB" stroke-width="1.8"/>
<text x="127.94" y="996.6" font-size="14.4" fill="#111" textLength="178.55" lengthAdjust="spacingAndGlyphs">Spent/Recovering (Stage 1)</text>
<text x="127.18" y="1011.6" font-size="14.4" fill="#111" textLength="112.51" lengthAdjust="spacingAndGlyphs">Growing(Stage 2)</text>
<text x="128.52" y="1027.9" font-size="14.4" fill="#111" textLength="103.97" lengthAdjust="spacingAndGlyphs">Mature(Stage 3)</text>
</svg></body></html>
